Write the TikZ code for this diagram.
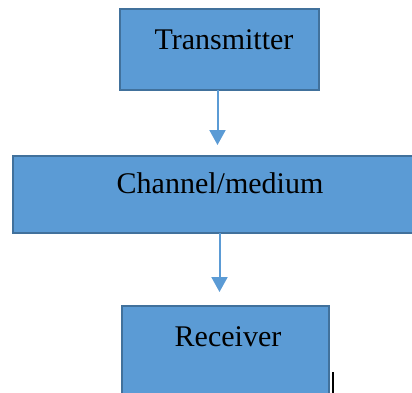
\documentclass[tikz,border=0pt]{standalone}
\usepackage{fontspec}
\setmainfont{Liberation Serif}
\usetikzlibrary{arrows.meta}
\definecolor{boxfill}{HTML}{5B9BD5}
\definecolor{boxline}{HTML}{41719C}
\begin{document}
\begin{tikzpicture}[x=1pt,y=-1pt,
  blockbox/.style={draw=boxline,fill=boxfill,line width=1.2pt,inner sep=0pt,outer sep=0pt,rectangle},
  lbl/.style={font=\fontsize{30}{32}\selectfont,inner sep=0pt,text=black},
  flow/.style={draw=boxfill,line width=2pt,-{Triangle[width=16pt,length=15pt]},shorten >=11pt}]
\useasboundingbox (0,0) rectangle (412,392);
\clip (0,0) rectangle (412,392);
\fill[white] (0,0) rectangle (412,392);
\node[blockbox,minimum width=199pt,minimum height=81pt] (t) at (219.5,49.5) {};
\node[blockbox,minimum width=402pt,minimum height=77pt] (c) at (214,194.5) {};
\node[blockbox,minimum width=207pt,minimum height=100pt] (r) at (225.5,356) {};
\node[lbl] (tl) at (224,40) {Transmitter};
\node[lbl] (cl) at (220,183) {Channel/medium};
\node[lbl] (rl) at (228,337) {Receiver};
\draw[flow] ([xshift=-2pt]t.south) -- ([xshift=-2pt]t.south |- c.north);
\draw[flow,shorten >=14pt] (c.south -| t.south) -- (r.north -| t.south);
\coordinate (cur1) at (333,372);
\coordinate (cur2) at (333,393);
\draw[black,line width=2pt] (cur1) -- (cur2);
\end{tikzpicture}
\end{document}
